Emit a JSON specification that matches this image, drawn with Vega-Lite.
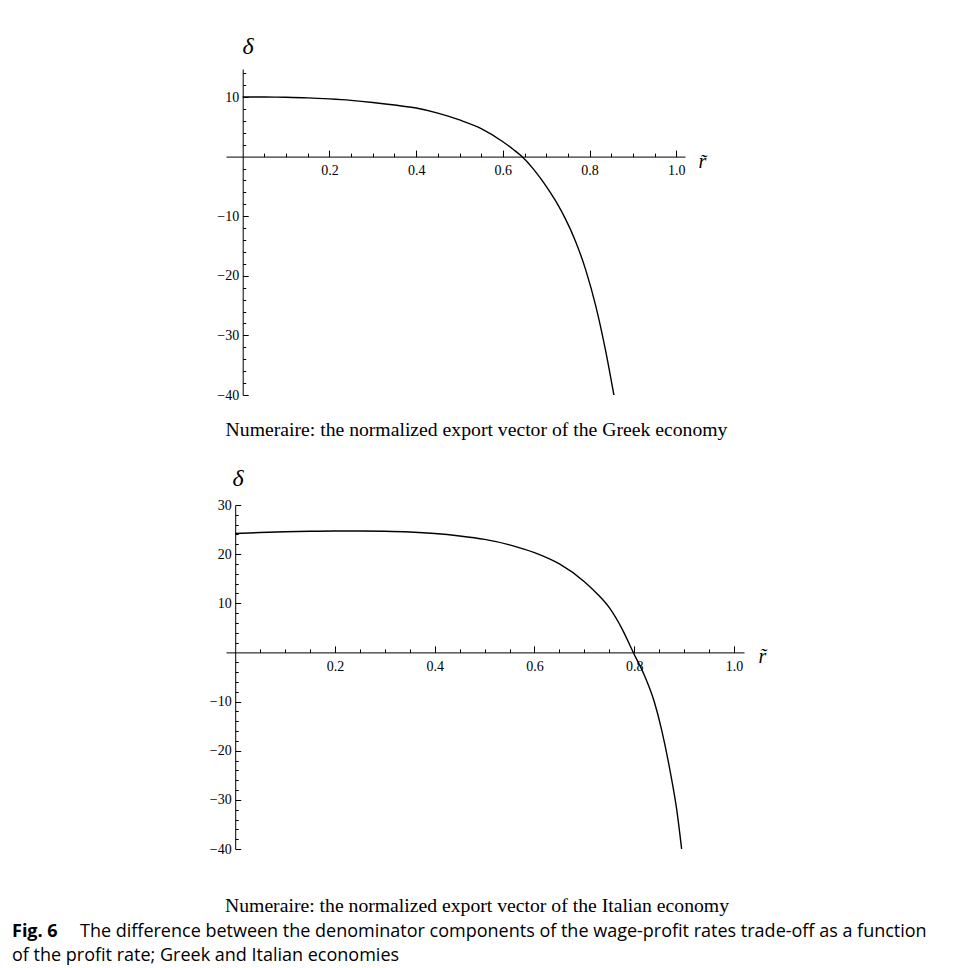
{
  "$schema": "https://vega.github.io/schema/vega-lite/v6.json",
  "background": "white",
  "padding": {"left": 12, "top": 34, "right": 8, "bottom": 4},
  "datasets": {
    "greek": [
      {"r": 0, "delta": 10.0}, {"r": 0.05, "delta": 9.99}, {"r": 0.1, "delta": 9.95}, {"r": 0.15, "delta": 9.86},
      {"r": 0.2, "delta": 9.68}, {"r": 0.25, "delta": 9.43}, {"r": 0.3, "delta": 9.08}, {"r": 0.35, "delta": 8.65},
      {"r": 0.4, "delta": 8.15}, {"r": 0.45, "delta": 7.3}, {"r": 0.5, "delta": 6.15}, {"r": 0.55, "delta": 4.7},
      {"r": 0.6, "delta": 2.5}, {"r": 0.625, "delta": 1.15}, {"r": 0.644, "delta": 0.0}, {"r": 0.67, "delta": -2.05},
      {"r": 0.69, "delta": -3.95}, {"r": 0.71, "delta": -6.1}, {"r": 0.727, "delta": -8.1}, {"r": 0.744, "delta": -10.4},
      {"r": 0.767, "delta": -14.1}, {"r": 0.791, "delta": -19.0}, {"r": 0.814, "delta": -25.0}, {"r": 0.837, "delta": -32.6},
      {"r": 0.856, "delta": -40.0}
    ],
    "italian": [
      {"r": 0, "delta": 24.2}, {"r": 0.05, "delta": 24.4}, {"r": 0.1, "delta": 24.55}, {"r": 0.15, "delta": 24.65},
      {"r": 0.2, "delta": 24.7}, {"r": 0.25, "delta": 24.7}, {"r": 0.3, "delta": 24.65}, {"r": 0.35, "delta": 24.5},
      {"r": 0.4, "delta": 24.2}, {"r": 0.45, "delta": 23.7}, {"r": 0.5, "delta": 23.0}, {"r": 0.55, "delta": 21.9},
      {"r": 0.6, "delta": 20.3}, {"r": 0.65, "delta": 18.0}, {"r": 0.7, "delta": 14.4}, {"r": 0.725, "delta": 12.0},
      {"r": 0.75, "delta": 9.1}, {"r": 0.775, "delta": 4.9}, {"r": 0.798, "delta": 0.0}, {"r": 0.82, "delta": -4.6},
      {"r": 0.84, "delta": -10.0}, {"r": 0.855, "delta": -15.8}, {"r": 0.872, "delta": -24.2}, {"r": 0.885, "delta": -31.9},
      {"r": 0.895, "delta": -40.0}
    ]
  },
  "config": {
    "view": {"stroke": null},
    "axis": {"grid": false, "labelColor": "black", "tickColor": "black", "domainColor": "black", "labelFont": "Liberation Serif", "labelFontSize": 14, "tickWidth": 1, "domainWidth": 1, "labelOverlap": false, "labelFlush": false},
    "title": {"color": "black", "subtitleColor": "black"}
  },
  "title": {
    "text": "Fig. 6",
    "subtitle": "of the profit rate; Greek and Italian economies",
    "orient": "bottom",
    "anchor": "start",
    "frame": "group",
    "font": "Open Sans",
    "fontSize": 18,
    "fontWeight": "bold",
    "subtitleFont": "Open Sans",
    "subtitleFontSize": 18,
    "subtitleFontWeight": "normal",
    "subtitlePadding": 6.5,
    "dx": -214,
    "offset": -18
  },
  "vconcat": [
    {
      "title": {
        "text": "The difference between the denominator components of the wage-profit rates trade-off as a function",
        "orient": "bottom",
        "anchor": "start",
        "frame": "group",
        "font": "Open Sans",
        "fontSize": 18,
        "fontWeight": "normal",
        "dx": -146,
        "offset": 7
      },
      "spacing": 26,
      "vconcat": [
        {
          "width": 459,
          "height": 326,
          "data": {"name": "greek"},
          "title": {"text": "Numeraire: the normalized export vector of the Greek economy", "orient": "bottom", "anchor": "middle", "frame": "group", "dx": 21, "offset": 18, "font": "Liberation Serif", "fontSize": 19.7, "fontWeight": "normal"},
          "layer": [
            {
              "mark": {"type": "line", "color": "black", "strokeWidth": 1.4, "interpolate": "monotone", "clip": true},
              "encoding": {
                "x": {"field": "r", "type": "quantitative", "scale": {"domain": [-0.0385, 1.02], "nice": false, "zero": false},
                  "axis": {"orient": "bottom", "offset": -238.4, "values": [0.2, 0.4, 0.6, 0.8, 1.0], "format": ".1f", "ticks": false, "tickSize": 0, "labelPadding": 7,
                    "title": "r\u0303", "titleFont": "Liberation Serif", "titleFontStyle": "italic", "titleFontWeight": "normal", "titleFontSize": 20, "titleX": 472, "titleY": 5, "titleAlign": "left", "titleBaseline": "middle"}},
                "y": {"field": "delta", "type": "quantitative", "scale": {"domain": [-40, 14.7], "nice": false, "zero": false},
                  "axis": {"orient": "left", "offset": -16.7, "values": [-40, -30, -20, -10, 10], "ticks": false, "tickSize": 0, "labelPadding": 4,
                    "title": "δ", "titleFont": "Liberation Serif", "titleFontStyle": "italic", "titleFontWeight": "normal", "titleFontSize": 24, "titleAngle": 0, "titleX": 5, "titleY": -23, "titleAlign": "center", "titleBaseline": "middle"}}
              }
            },
            {
              "mark": {"type": "line", "opacity": 0},
              "encoding": {
                "x": {"field": "r", "type": "quantitative",
                  "axis": {"orient": "top", "offset": -87.6, "values": [0.05, 0.1, 0.15, 0.2, 0.25, 0.3, 0.35, 0.4, 0.45, 0.5, 0.55, 0.6, 0.65, 0.7, 0.75, 0.8, 0.85, 0.9, 0.95, 1.0], "labels": false, "domain": false, "title": null,
                    "tickSize": {"condition": {"test": "round(datum.value*20)%4===0", "value": 6.5}, "value": 3.5}}},
                "y": {"field": "delta", "type": "quantitative",
                  "axis": {"orient": "right", "offset": -442.3, "values": [-40, -38, -36, -34, -32, -30, -28, -26, -24, -22, -20, -18, -16, -14, -12, -10, -8, -6, -4, -2, 2, 4, 6, 8, 10, 12, 14], "labels": false, "domain": false, "title": null,
                    "tickSize": {"condition": {"test": "datum.value%10===0", "value": 5.5}, "value": 3}}}
              }
            }
          ],
          "resolve": {"axis": {"x": "independent", "y": "independent"}}
        },
        {
          "width": 518,
          "height": 344,
          "data": {"name": "italian"},
          "title": {"text": "Numeraire: the normalized export vector of the Italian economy", "orient": "bottom", "anchor": "middle", "frame": "group", "dx": -8, "offset": 40, "font": "Liberation Serif", "fontSize": 19.7, "fontWeight": "normal"},
          "layer": [
            {
              "mark": {"type": "line", "color": "black", "strokeWidth": 1.4, "interpolate": "monotone", "clip": true},
              "encoding": {
                "x": {"field": "r", "type": "quantitative", "scale": {"domain": [-0.0184, 1.02], "nice": false, "zero": false},
                  "axis": {"orient": "bottom", "offset": -196.6, "values": [0.2, 0.4, 0.6, 0.8, 1.0], "format": ".1f", "ticks": false, "tickSize": 0, "labelPadding": 7,
                    "title": "r\u0303", "titleFont": "Liberation Serif", "titleFontStyle": "italic", "titleFontWeight": "normal", "titleFontSize": 20, "titleX": 532, "titleY": 4, "titleAlign": "left", "titleBaseline": "middle"}},
                "y": {"field": "delta", "type": "quantitative", "scale": {"domain": [-40, 30], "nice": false, "zero": false},
                  "axis": {"orient": "left", "offset": -9.2, "values": [-40, -30, -20, -10, 10, 20, 30], "ticks": false, "tickSize": 0, "labelPadding": 4,
                    "title": "δ", "titleFont": "Liberation Serif", "titleFontStyle": "italic", "titleFontWeight": "normal", "titleFontSize": 24, "titleAngle": 0, "titleX": 2.5, "titleY": -27, "titleAlign": "center", "titleBaseline": "middle"}}
              }
            },
            {
              "mark": {"type": "line", "opacity": 0},
              "encoding": {
                "x": {"field": "r", "type": "quantitative",
                  "axis": {"orient": "top", "offset": -147.4, "values": [0.05, 0.1, 0.15, 0.2, 0.25, 0.3, 0.35, 0.4, 0.45, 0.5, 0.55, 0.6, 0.65, 0.7, 0.75, 0.8, 0.85, 0.9, 0.95, 1.0], "labels": false, "domain": false, "title": null,
                    "tickSize": {"condition": {"test": "round(datum.value*20)%4===0", "value": 6.5}, "value": 3.5}}},
                "y": {"field": "delta", "type": "quantitative",
                  "axis": {"orient": "right", "offset": -508.8, "values": [-40, -38, -36, -34, -32, -30, -28, -26, -24, -22, -20, -18, -16, -14, -12, -10, -8, -6, -4, -2, 2, 4, 6, 8, 10, 12, 14, 16, 18, 20, 22, 24, 26, 28, 30], "labels": false, "domain": false, "title": null,
                    "tickSize": {"condition": {"test": "datum.value%10===0", "value": 5.5}, "value": 3}}}
              }
            }
          ],
          "resolve": {"axis": {"x": "independent", "y": "independent"}}
        }
      ]
    }
  ]
}
